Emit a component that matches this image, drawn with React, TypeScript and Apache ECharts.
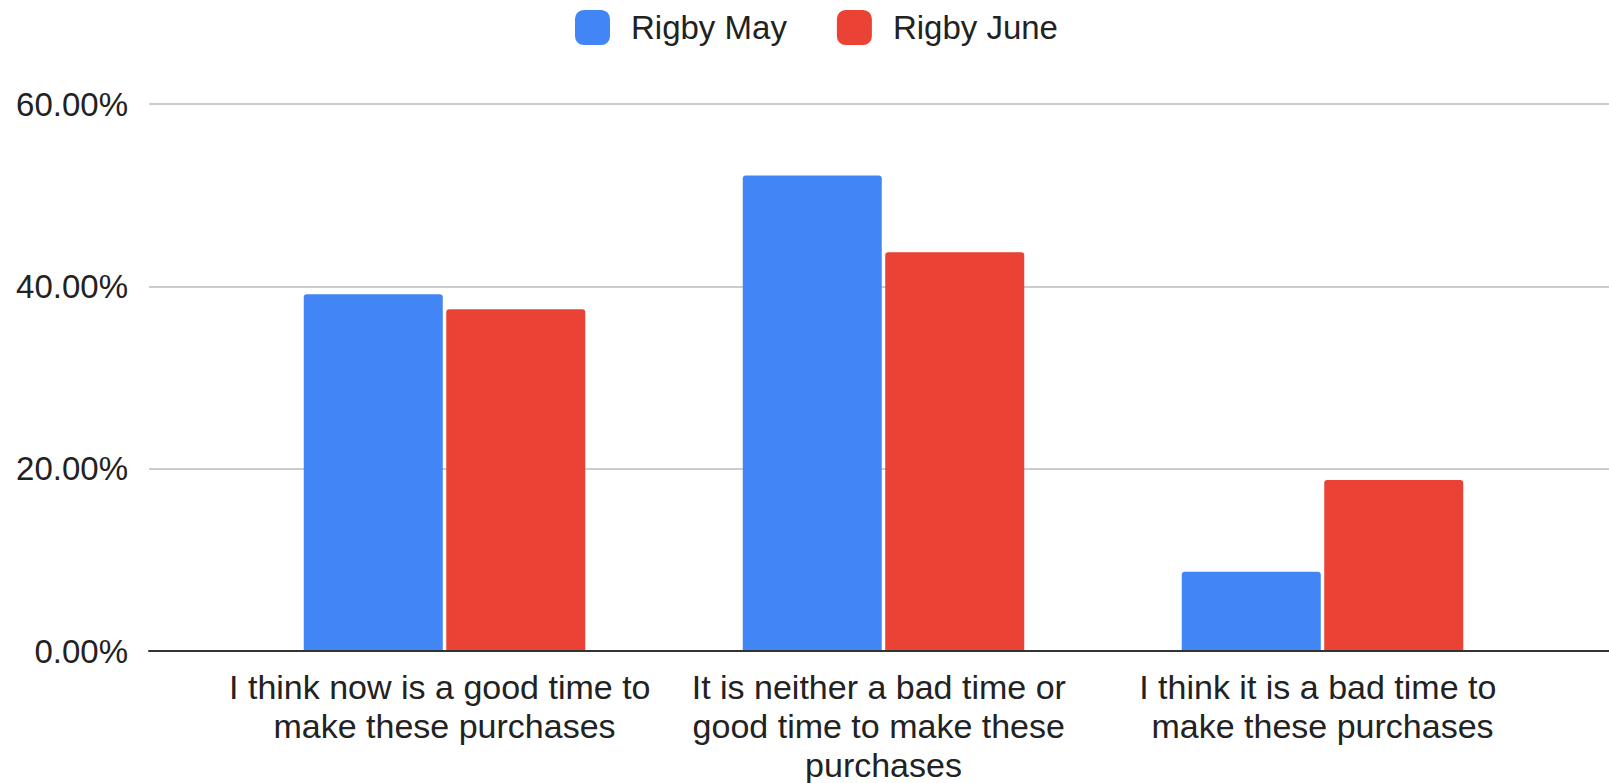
import React, { useEffect, useRef } from "react";
import * as echarts from "echarts";

const categories = [
  "I think now is a good time to make these purchases",
  "It is neither a bad time or good time to make these purchases",
  "I think it is a bad time to make these purchases",
];
const seriesNames = ["Rigby May", "Rigby June"];
const rigbyMay = [39.13, 52.17, 8.7];
const rigbyJune = [37.5, 43.75, 18.75];
const yTicks = [0, 20, 40, 60];

const FONT = "Arial, 'Liberation Sans', sans-serif";

export default function App() {
  const ref = useRef<HTMLDivElement>(null);
  useEffect(() => {
    document.body.style.margin = "0";
    const chart = echarts.init(ref.current!, null, { renderer: "svg" });
    const yMin = yTicks[0];
    const yMax = yTicks[yTicks.length - 1];
    const yInterval = yTicks[1] - yTicks[0];
    chart.setOption({
      animation: false,
      backgroundColor: "#ffffff",
      textStyle: { fontFamily: FONT },
      legend: {
        data: seriesNames,
        left: 570,
        top: 5,
        itemWidth: 35,
        itemHeight: 35,
        itemGap: 50,
        icon: "roundRect",
        textStyle: {
          fontSize: 33,
          color: "#222222",
          fontFamily: FONT,
          padding: [0, 0, 0, 16],
        },
      },
      grid: [
        { left: 149, right: 0, top: 104, bottom: 132, containLabel: false, outerBoundsMode: "none" },
        { left: 225, right: 67, top: 104, bottom: 132, containLabel: false, outerBoundsMode: "none" },
      ],
      xAxis: [
        {
          type: "category",
          gridIndex: 0,
          data: categories,
          axisLine: { show: true, lineStyle: { color: "#333333", width: 2 } },
          axisTick: { show: false },
          axisLabel: { show: false },
          splitLine: { show: false },
          z: 10,
        },
        {
          type: "category",
          gridIndex: 1,
          data: categories,
          axisLine: { show: false },
          axisTick: { show: false },
          axisLabel: {
            show: true,
            fontSize: 34,
            color: "#222222",
            fontFamily: FONT,
            width: 434,
            overflow: "break",
            lineHeight: 39,
            margin: 16,
            interval: 0,
          },
        },
      ],
      yAxis: [
        {
          type: "value",
          gridIndex: 0,
          min: yMin,
          max: yMax,
          interval: yInterval,
          axisLine: { show: false },
          axisTick: { show: false },
          axisLabel: {
            fontSize: 33,
            color: "#222222",
            fontFamily: FONT,
            margin: 21,
            formatter: (v: number) => v.toFixed(2) + "%",
          },
          splitLine: { show: true, lineStyle: { color: "#cccccc", width: 2 } },
        },
        {
          type: "value",
          gridIndex: 1,
          min: yMin,
          max: yMax,
          interval: yInterval,
          axisLine: { show: false },
          axisTick: { show: false },
          axisLabel: { show: false },
          splitLine: { show: false },
        },
      ],
      series: [
        {
          name: seriesNames[0],
          type: "bar",
          xAxisIndex: 1,
          yAxisIndex: 1,
          data: rigbyMay,
          barWidth: 139,
          barGap: "2.5%",
          itemStyle: { color: "#4285F4", borderRadius: [3, 3, 0, 0] },
        },
        {
          name: seriesNames[1],
          type: "bar",
          xAxisIndex: 1,
          yAxisIndex: 1,
          data: rigbyJune,
          barWidth: 139,
          barGap: "2.5%",
          itemStyle: { color: "#EA4335", borderRadius: [3, 3, 0, 0] },
        },
      ],
    });
    return () => chart.dispose();
  }, []);
  return (
    <div
      ref={ref}
      style={{ position: "fixed", left: 0, top: 0, width: 1609, height: 783 }}
    />
  );
}
